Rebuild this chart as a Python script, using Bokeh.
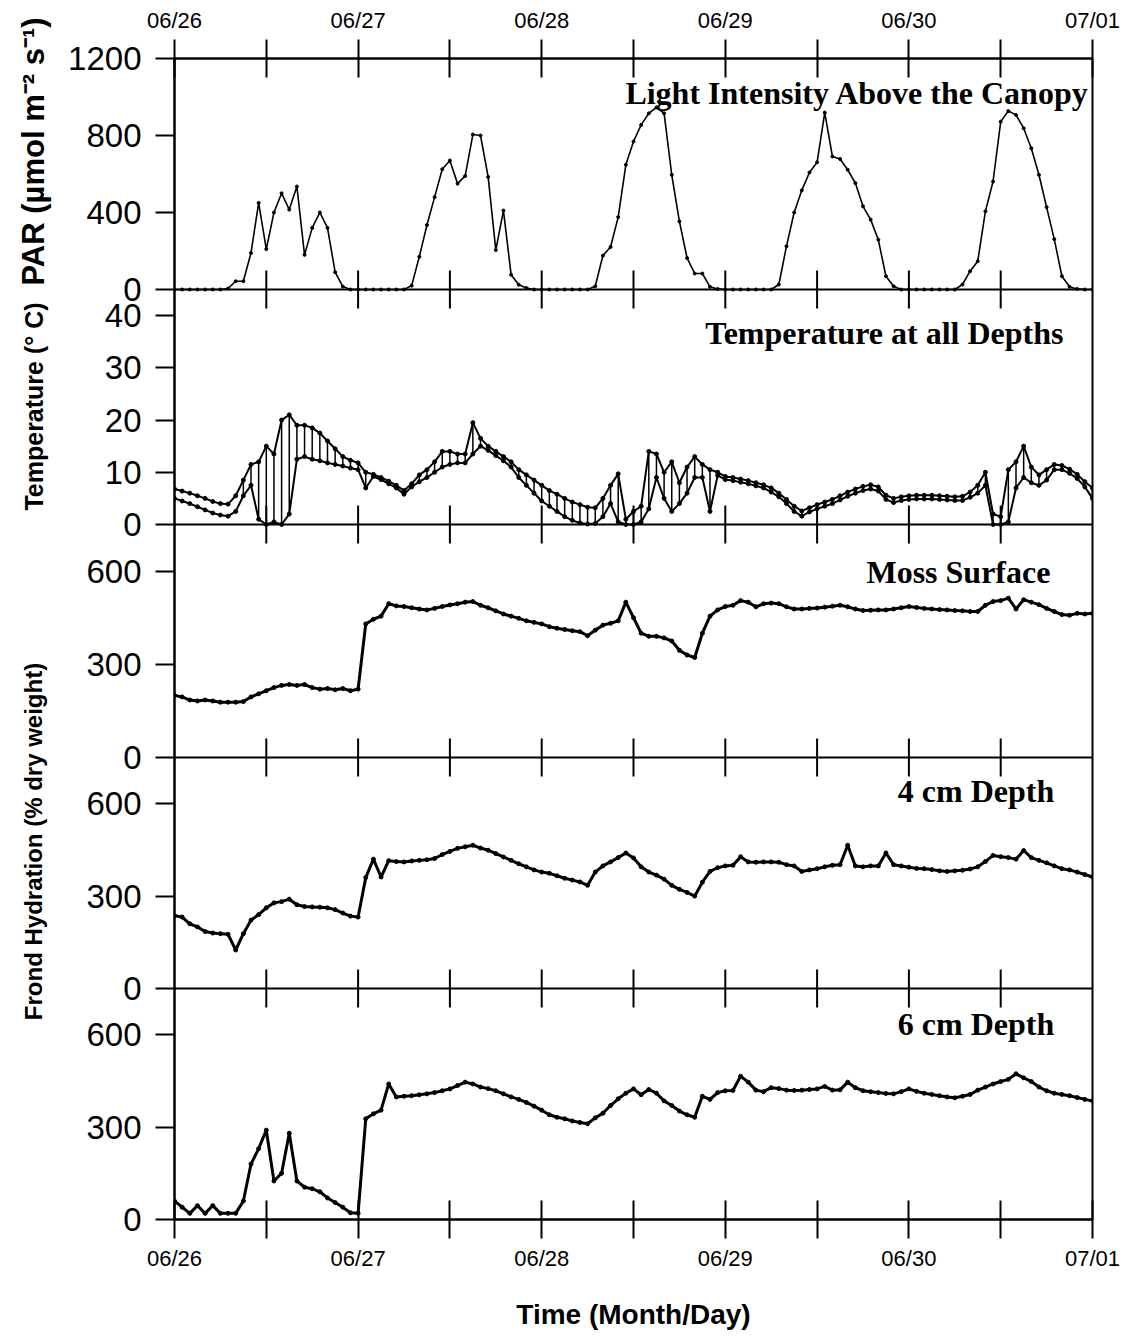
import numpy as np
from bokeh.plotting import figure
from bokeh.layouts import row
from bokeh.models import Range1d, LinearAxis, FixedTicker, Label, Span
from bokeh.embed import file_html
from bokeh.resources import INLINE
from bokeh.core.properties import value

# ---------------- data (hourly, 06/26 00:00 .. 07/01 00:00) ----------------
hours = list(range(121))
day_ticks = [0, 12, 24, 36, 48, 60, 72, 84, 96, 108, 120]
day_labels = {0: "06/26", 24: "06/27", 48: "06/28", 72: "06/29", 96: "06/30", 120: "07/01"}

par = [0, 0, 0, 0, 0, 0, 0, 5, 43, 43, 190, 450, 210, 400, 500, 415, 535, 180, 320, 400, 320, 90, 15, 0,
       0, 0, 0, 0, 0, 0, 0, 20, 170, 335, 480, 625, 670, 550, 590, 805, 800, 585, 205, 410, 77, 25, 8, 0,
       0, 0, 0, 0, 0, 0, 0, 17, 176, 221, 376, 648, 769, 855, 915, 946, 915, 596, 354, 164, 83, 83, 14, 3,
       0, 0, 0, 0, 0, 0, 0, 26, 225, 400, 515, 608, 661, 919, 691, 678, 622, 553, 432, 363, 259, 69, 17, 0,
       0, 0, 0, 0, 0, 0, 0, 26, 95, 147, 406, 561, 872, 927, 907, 838, 734, 596, 428, 262, 69, 14, 3, 0,
       0]

temp_upper = [6.8, 6.4, 6.0, 5.5, 5.0, 4.4, 4.0, 3.9, 5.5, 8.5, 11.5, 12.0, 15.0, 13.5, 20.0, 21.0, 19.0, 19.0, 18.5, 17.5, 16.0, 14.5, 13.0, 12.3,
              11.8, 10.0, 9.6, 9.0, 8.3, 7.5, 6.5, 7.8, 9.5, 10.5, 12.0, 14.0, 14.0, 13.5, 13.5, 19.5, 16.5, 15.0, 14.0, 13.0, 12.0, 10.5, 9.5, 8.5,
              7.5, 6.5, 5.8, 5.0, 4.3, 3.8, 3.3, 3.2, 5.0, 7.5, 9.7, 1.0, 2.5, 3.5, 14.0, 13.5, 10.0, 12.0, 8.0, 11.0, 13.0, 11.5, 10.5, 10.0,
              9.2, 9.0, 8.7, 8.4, 8.0, 7.6, 7.0, 6.0, 4.8, 3.5, 2.6, 3.2, 3.8, 4.3, 4.8, 5.5, 6.2, 6.8, 7.3, 7.6, 7.2, 5.6, 5.0, 5.3,
              5.5, 5.6, 5.6, 5.6, 5.5, 5.4, 5.3, 5.4, 6.2, 7.5, 10.0, 2.0, 1.5, 10.5, 12.0, 15.0, 11.0, 9.5, 10.5, 11.5, 11.3, 10.6, 9.6, 8.2,
              7.0]
temp_lower = [5.0, 4.5, 4.0, 3.4, 2.8, 2.2, 1.8, 1.6, 2.5, 5.5, 7.5, 1.0, 0.0, 0.5, 0.0, 2.0, 12.5, 13.0, 12.5, 12.2, 11.8, 11.5, 11.2, 10.8,
              10.5, 7.0, 9.2, 8.6, 7.8, 7.0, 5.8, 7.2, 8.2, 9.0, 10.0, 11.0, 11.5, 11.8, 11.8, 13.5, 15.0, 14.2, 13.2, 12.2, 11.0, 9.0, 7.5, 6.0,
              4.5, 3.5, 2.5, 1.5, 0.8, 0.3, 0.1, 0.2, 1.5, 4.0, 0.5, 0.0, 0.0, 0.5, 3.0, 9.0, 5.0, 2.5, 4.0, 6.0, 9.0, 9.0, 2.5, 9.4,
              8.6, 8.4, 8.1, 7.8, 7.4, 7.0, 6.2, 5.3, 4.0, 2.5, 1.6, 2.4, 3.0, 3.5, 4.0, 4.7, 5.4, 6.0, 6.5, 6.8, 6.4, 4.8, 4.2, 4.6,
              4.8, 4.9, 4.9, 4.9, 4.8, 4.7, 4.6, 4.6, 5.2, 6.0, 7.5, 0.0, 0.0, 0.5, 7.0, 9.0, 8.0, 7.5, 8.5, 10.5, 10.5, 9.8, 8.8, 7.2,
              5.0]

moss_surface = [200, 195, 185, 182, 185, 182, 178, 178, 178, 180, 195, 205, 215, 225, 232, 235, 232, 235, 225, 220, 222, 218, 222, 215,
                220, 430, 445, 455, 495, 488, 486, 482, 478, 475, 480, 486, 491, 495, 500, 502, 490, 482, 472, 462, 455, 448, 440, 435,
                430, 421, 416, 412, 408, 405, 392, 410, 426, 432, 440, 500, 450, 400, 390, 390, 385, 375, 345, 330, 322, 400, 455, 475,
                486, 490, 505, 500, 485, 495, 497, 495, 485, 478, 478, 480, 481, 484, 487, 490, 485, 478, 473, 474, 475, 475, 478, 482,
                486, 483, 480, 478, 476, 475, 473, 472, 470, 470, 490, 502, 505, 513, 478, 508, 500, 492, 480, 470, 460, 458, 464, 462,
                464]

depth_4cm = [236, 232, 210, 200, 185, 180, 178, 176, 125, 178, 222, 240, 262, 278, 282, 290, 272, 266, 265, 264, 262, 256, 245, 235,
             232, 360, 420, 362, 415, 412, 411, 414, 416, 418, 422, 435, 445, 455, 460, 465, 456, 449, 438, 427, 416, 405, 395, 385,
             378, 374, 366, 358, 352, 346, 335, 378, 398, 411, 425, 440, 424, 395, 378, 368, 355, 335, 322, 312, 300, 345, 380, 392,
             398, 400, 428, 411, 410, 411, 411, 410, 402, 398, 380, 385, 389, 395, 400, 402, 465, 398, 395, 398, 398, 440, 402, 398,
             394, 390, 389, 386, 382, 380, 382, 384, 388, 395, 412, 432, 428, 425, 420, 448, 425, 416, 408, 398, 389, 385, 378, 370,
             362]

depth_6cm = [60, 40, 20, 45, 20, 45, 20, 20, 20, 60, 180, 230, 290, 125, 150, 280, 125, 105, 100, 90, 70, 55, 40, 22,
             20, 327, 343, 355, 440, 398, 400, 402, 405, 408, 412, 418, 424, 435, 446, 440, 430, 425, 418, 408, 398, 390, 380, 368,
             355, 340, 332, 327, 320, 315, 311, 330, 345, 370, 392, 410, 424, 405, 422, 410, 385, 370, 352, 340, 332, 400, 390, 412,
             418, 419, 465, 446, 420, 415, 428, 425, 420, 419, 420, 422, 424, 432, 420, 421, 446, 428, 418, 415, 412, 409, 408, 415,
             424, 416, 410, 406, 402, 398, 395, 400, 406, 420, 430, 440, 448, 455, 473, 460, 448, 430, 418, 410, 406, 402, 396, 390,
             385]

panel_titles = ["Light Intensity Above the Canopy", "Temperature at all Depths",
                "Moss Surface", "4 cm Depth", "6 cm Depth"]
y_titles = ["PAR (µmol m⁻² s⁻¹)", "Temperature (° C)", "Frond Hydration (% dry weight)"]

# ---------------- layout ----------------
W, H = 1135, 1341
LW = 60                      # strip holding the vertical axis titles
BL, BR, BT, BB = 174 - LW, 43, 58, 122
FH = H - BT - BB             # frame height in px (global coordinate units)

# name, vmin, vmax, global bottom, global top, ticks
panels = [
    ("par", 0, 1200, 930, FH, [0, 400, 800, 1200]),
    ("temp", 0, 45, 695, 930, [0, 10, 20, 30, 40]),
    ("moss", 0, 750, 462, 695, [0, 300, 600]),
    ("d4", 0, 750, 231, 462, [0, 300, 600]),
    ("d6", 0, 750, 0, 231, [0, 300, 600]),
]

p = figure(width=W - LW, height=H, output_backend="svg", toolbar_location=None,
           x_range=Range1d(0, 120), y_range=Range1d(0, FH),
           min_border_left=BL, min_border_right=BR, min_border_top=BT, min_border_bottom=BB,
           background_fill_color="white", border_fill_color="white")
p.xgrid.visible = False
p.ygrid.visible = False
p.outline_line_color = "black"
p.outline_line_width = 2

ytick_pos = []
ytick_lab = {}
for name, vmin, vmax, g0, g1, ticks in panels:
    s = (vmax - vmin) / (g1 - g0)
    p.extra_y_ranges[name] = Range1d(vmin - g0 * s, vmin + (FH - g0) * s)
    for t in ticks:
        g = int(round(g0 + (t - vmin) / s))
        ytick_pos.append(g)
        ytick_lab[g] = str(t)

yax = p.yaxis[0]
yax.ticker = FixedTicker(ticks=ytick_pos)
yax.major_label_overrides = ytick_lab
yax.major_tick_out = 19
yax.major_tick_in = 0
yax.minor_tick_out = 0
yax.minor_tick_in = 0
yax.major_tick_line_width = 2
yax.axis_line_width = 2
yax.major_label_text_font = "Liberation Sans"
yax.major_label_text_font_size = "33px"
yax.major_label_standoff = 14
yax.major_label_text_color = "black"

xlabels = {t: day_labels.get(t, "") for t in day_ticks}
xax = p.xaxis[0]
top_ax = LinearAxis()
p.add_layout(top_ax, "above")
for ax in (xax, top_ax):
    ax.ticker = FixedTicker(ticks=day_ticks)
    ax.major_label_overrides = xlabels
    ax.major_tick_in = 19
    ax.major_tick_out = 19
    ax.minor_tick_in = 0
    ax.minor_tick_out = 0
    ax.major_tick_line_width = 2
    ax.axis_line_width = 2
    ax.major_label_text_font = "Liberation Sans"
    ax.major_label_text_font_size = "22px"
    ax.major_label_standoff = 7
    ax.major_label_text_color = "black"
xax.axis_label = "Time (Month/Day)"
xax.axis_label_text_font = "Liberation Sans"
xax.axis_label_text_font_style = "bold"
xax.axis_label_text_font_size = "28px"
xax.axis_label_standoff = 25
xax.axis_label_text_color = "black"

# panel boundaries with inward ticks on both sides
inner_x = day_ticks[1:-1]
for name, vmin, vmax, g0, g1, ticks in panels[:-1]:
    p.add_layout(Span(location=g0, dimension="width", line_color="black", line_width=2))
    p.segment(x0=inner_x, y0=[g0 - 19] * len(inner_x), x1=inner_x, y1=[g0 + 19] * len(inner_x),
              line_color="black", line_width=2)

# ---------------- data glyphs ----------------
p.line(hours, par, y_range_name="par", line_color="black", line_width=1.6)
p.scatter(hours, par, y_range_name="par", size=3, marker="circle", color="black")

hs = hours[9:]
p.segment(x0=hs, y0=temp_lower[9:], x1=hs, y1=temp_upper[9:], y_range_name="temp",
          line_color="black", line_width=1.5)
for series in (temp_upper, temp_lower):
    p.line(hours, series, y_range_name="temp", line_color="black", line_width=2)
    p.scatter(hours, series, y_range_name="temp", size=4, marker="circle", color="black")

for name, series in (("moss", moss_surface), ("d4", depth_4cm), ("d6", depth_6cm)):
    p.line(hours, series, y_range_name=name, line_color="black", line_width=3)
    p.scatter(hours, series, y_range_name=name, size=4, marker="circle", color="black")

# ---------------- panel titles ----------------
title_pos = [(119.6, 1127), (116.2, 887), (114.5, 648), (115.0, 429), (115.0, 196)]
for txt, (x, y) in zip(panel_titles, title_pos):
    p.add_layout(Label(x=x, y=y, text=txt, text_align="right", text_baseline="middle",
                       text_font="Liberation Serif", text_font_style="bold",
                       text_font_size="32px", text_color="black"))

# ---------------- vertical axis titles (separate strip, same frame as p) ----------------
q = figure(width=LW, height=H, output_backend="svg", toolbar_location=None,
           x_range=Range1d(0, LW), y_range=Range1d(0, FH),
           x_axis_location=None, y_axis_location=None,
           min_border_left=0, min_border_right=0, min_border_top=BT, min_border_bottom=BB,
           background_fill_color="white", border_fill_color="white")
q.xgrid.visible = False
q.ygrid.visible = False
q.outline_line_color = None
ytitle_pos = [(33, 1068, "31px"), (33, 813, "25px"), (33, 378, "24px")]
for txt, (x, y, fs) in zip(y_titles, ytitle_pos):
    r = q.text(x=[x], y=[y], text=[txt], angle=np.pi / 2, text_align="center",
               text_baseline="middle", text_font=value("Liberation Sans"),
               text_font_style="bold", text_font_size=value(fs), text_color="black")
    r.level = "overlay"

layout = row(q, p)
open("out.html", "w").write(file_html(layout, INLINE))
